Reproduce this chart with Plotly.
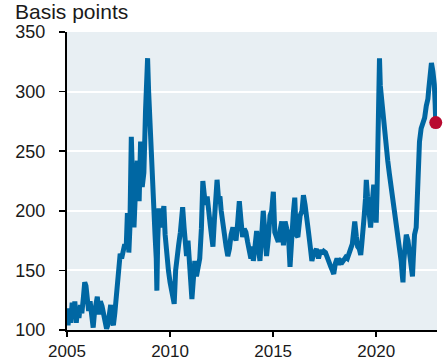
import plotly.graph_objects as go

years = [
    2005.00, 2005.05, 2005.12, 2005.18, 2005.25, 2005.32, 2005.38, 2005.45, 2005.52, 2005.58,
    2005.65, 2005.72, 2005.80, 2005.86, 2005.92, 2005.98, 2006.05, 2006.12, 2006.20, 2006.27,
    2006.33, 2006.40, 2006.47, 2006.55, 2006.62, 2006.70, 2006.77, 2006.85, 2006.92, 2006.98,
    2007.05, 2007.12, 2007.18, 2007.25, 2007.32, 2007.40, 2007.47, 2007.52, 2007.58, 2007.65,
    2007.72, 2007.80, 2007.87, 2007.93, 2008.00, 2008.05, 2008.12, 2008.18, 2008.25, 2008.33,
    2008.41, 2008.50, 2008.57, 2008.65, 2008.73, 2008.81, 2008.87, 2008.91, 2008.96, 2009.03,
    2009.10, 2009.18, 2009.27, 2009.33, 2009.36, 2009.40, 2009.46, 2009.54, 2009.62, 2009.70,
    2009.76, 2009.84, 2009.92, 2010.00, 2010.08, 2010.15, 2010.20, 2010.27, 2010.35, 2010.42,
    2010.50, 2010.57, 2010.61, 2010.68, 2010.75, 2010.80, 2010.87, 2010.94, 2011.00, 2011.06,
    2011.12, 2011.20, 2011.28, 2011.36, 2011.44, 2011.52, 2011.59, 2011.65, 2011.72, 2011.80,
    2011.88, 2011.95, 2012.02, 2012.08, 2012.15, 2012.22, 2012.28, 2012.35, 2012.42, 2012.48,
    2012.56, 2012.64, 2012.72, 2012.80, 2012.88, 2012.96, 2013.05, 2013.12, 2013.20, 2013.28,
    2013.36, 2013.44, 2013.52, 2013.60, 2013.68, 2013.76, 2013.84, 2013.92, 2013.98, 2014.04,
    2014.12, 2014.20, 2014.28, 2014.36, 2014.44, 2014.52, 2014.60, 2014.68, 2014.76, 2014.85,
    2014.93, 2015.01, 2015.08, 2015.16, 2015.25, 2015.33, 2015.42, 2015.50, 2015.58, 2015.66,
    2015.74, 2015.82, 2015.90, 2015.98, 2016.05, 2016.12, 2016.20, 2016.31, 2016.40, 2016.47,
    2016.55, 2016.64, 2016.71, 2016.80, 2016.88, 2016.95, 2017.02, 2017.10, 2017.20, 2017.30,
    2017.38, 2017.46, 2017.54, 2017.62, 2017.71, 2017.80, 2017.87, 2017.94, 2018.02, 2018.10,
    2018.20, 2018.28, 2018.36, 2018.44, 2018.52, 2018.60, 2018.68, 2018.76, 2018.84, 2018.92,
    2018.96, 2019.04, 2019.10, 2019.18, 2019.25, 2019.30, 2019.36, 2019.42, 2019.48, 2019.52,
    2019.58, 2019.65, 2019.73, 2019.81, 2019.88, 2019.94, 2020.00, 2020.04, 2020.08, 2020.12,
    2020.16, 2020.20, 2020.24, 2020.32, 2020.40, 2020.48, 2020.56, 2020.64, 2020.73, 2020.81,
    2020.89, 2020.97, 2021.05, 2021.13, 2021.21, 2021.27, 2021.30, 2021.34, 2021.38, 2021.46,
    2021.54, 2021.62, 2021.70, 2021.76, 2021.80, 2021.86, 2021.94, 2022.00, 2022.04, 2022.10,
    2022.18, 2022.27, 2022.35, 2022.43, 2022.51, 2022.55, 2022.59, 2022.64, 2022.68, 2022.75,
    2022.82, 2022.86, 2022.89,
]

spread_bp = [
    112, 104, 118, 106, 123, 110, 124, 106, 119, 110,
    121, 114, 128, 140, 137, 128, 116, 124, 108, 102,
    114, 120, 128, 113, 124, 120, 112, 106, 101, 104,
    112, 121, 108, 104, 114, 128, 140, 158, 164, 160,
    167, 172, 168, 198, 165, 185, 262, 225, 186, 220,
    242, 208, 258, 220, 232, 284, 318, 328, 300, 270,
    228, 205, 180, 160, 133, 175, 202, 186, 197, 204,
    180, 160, 150, 140, 130, 124, 122, 150, 168, 172,
    182, 195, 203, 186, 170, 162, 175, 150, 135, 126,
    140, 158, 145, 152, 160, 185, 225, 215, 205, 212,
    192, 188, 178, 170, 192, 222, 226, 210, 212, 200,
    188, 176, 170, 162, 168, 180, 186, 180, 175, 190,
    208, 192, 178, 185, 182, 174, 165, 160, 170, 158,
    170, 183, 170, 158, 178, 200, 182, 162, 175, 196,
    200, 216, 182, 178, 174, 183, 191, 171, 191, 185,
    180, 153, 186, 198, 211, 180, 178, 196, 200, 213,
    205, 196, 183, 170, 158, 163, 165, 168, 160, 167,
    164, 166, 165, 162, 158, 153, 150, 147, 156, 160,
    155, 158, 157, 160, 161, 160, 163, 168, 172, 185,
    191, 178, 170, 168, 163, 172, 192, 196, 210, 226,
    212, 202, 186, 207, 222, 210, 190, 215, 270, 305,
    328, 305, 297, 280, 262, 248, 242, 231, 220, 208,
    197, 189, 178, 169, 158, 145, 140, 158, 172, 180,
    175, 163, 152, 145, 160, 180, 186, 220, 242, 258,
    269, 275, 278, 288, 294, 302, 314, 322, 324, 317,
    306, 290, 274,
]

y_ticks = [100, 150, 200, 250, 300, 350]
x_ticks = [2005, 2010, 2015, 2020]
x_tick_labels = ["2005", "2010", "2015", "2020"]

LINE_COLOR = "#0067a3"
DOT_COLOR = "#b80a30"
BG = "#e8eff3"
FONT = "Liberation Sans, Arial, sans-serif"

fig = go.Figure()
fig.add_trace(go.Scatter(
    x=years, y=spread_bp, mode="lines",
    line=dict(color=LINE_COLOR, width=5),
    hoverinfo="skip", showlegend=False,
))
fig.add_trace(go.Scatter(
    x=[years[-1]], y=[spread_bp[-1]], mode="markers",
    marker=dict(color=DOT_COLOR, size=13, line=dict(width=0)),
    showlegend=False, cliponaxis=False,
))

fig.update_layout(
    width=448, height=362,
    margin=dict(l=67, r=11, t=32, b=32, autoexpand=False),
    paper_bgcolor="white",
    plot_bgcolor=BG,
    font=dict(family=FONT, size=18, color="#1a1a1a"),
    title=dict(
        text="Basis points", x=15 / 448, xanchor="left", xref="container",
        y=1 - 12 / 362, yanchor="middle", yref="container",
        font=dict(family=FONT, size=21, color="#1a1a1a"),
    ),
    xaxis=dict(
        range=[2005, 2022.95], tickmode="array", tickvals=x_ticks, ticktext=x_tick_labels,
        showgrid=False, zeroline=False, automargin=False,
        showline=True, linecolor="black", linewidth=2,
        ticks="outside", ticklen=5, tickwidth=1.5, tickcolor="black",
        ticklabelstandoff=0, tickfont=dict(size=17),
    ),
    yaxis=dict(
        range=[100, 350], tickmode="array", tickvals=y_ticks,
        showgrid=True, gridcolor="white", gridwidth=2, zeroline=False, automargin=False,
        showline=True, linecolor="black", linewidth=2,
        ticks="outside", ticklen=6, tickwidth=1.5, tickcolor="black",
        ticklabelstandoff=10,
    ),
)

fig.write_html(
    "out.html",
    config={"displayModeBar": False, "staticPlot": True},
    post_script="document.body.style.margin='0';document.body.style.overflow='hidden';",
)
